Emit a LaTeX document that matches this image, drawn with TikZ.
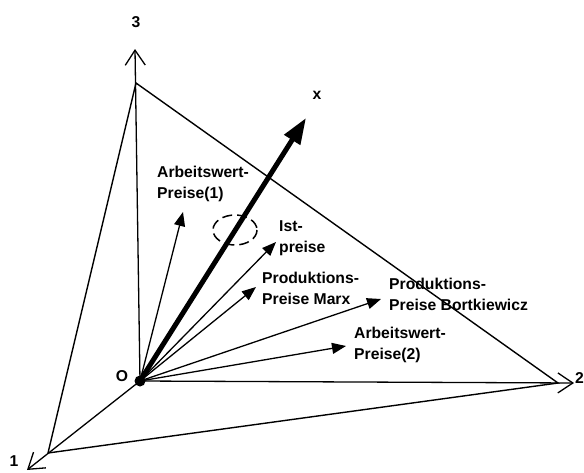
\documentclass[tikz,border=0pt]{standalone}
\usepackage{fontspec}
\setmainfont{Liberation Sans}
\usepackage{tikz}
\usetikzlibrary{arrows.meta,shapes,positioning}
\definecolor{InkK}{RGB}{0,0,0}

\begin{document}
\begin{tikzpicture}[x=1pt,y=-1pt,InkK,
    axis/.style={-{Straight Barb[length=15pt,width=20pt]},line width=1.3pt},
    edge/.style={line width=1.4pt},
    price/.style={-{Triangle[length=14pt,width=11pt]},line width=1.3pt},
    lbl/.style={font=\bfseries\fontsize{15.7}{21}\selectfont,align=left,
      anchor=north west,inner sep=0pt},
    axlbl/.style={font=\bfseries\fontsize{15.7}{18}\selectfont,inner sep=0pt}]
  \useasboundingbox (0,0) rectangle (584,472);
  % origin, axis ends, corners of the plane
  \coordinate (O)  at (140,381);
  \coordinate (e1) at (27,470);
  \coordinate (e2) at (574,383);
  \coordinate (e3) at (135,49);
  \coordinate (A1) at (48,453);
  \coordinate (A2) at (558,383);
  \coordinate (A3) at (136,83);
  \coordinate (xt) at (306,118);
  % arrow tips of the price vectors
  \coordinate (t1) at (183,212);
  \coordinate (t2) at (276,242);
  \coordinate (t3) at (256,287);
  \coordinate (t4) at (381,299);
  \coordinate (t5) at (346,346);

  \draw[edge] (A3) -- (A2) -- (A1) -- cycle;
  \draw[axis] (O) -- (e1);
  \draw[axis] (O) -- (e2);
  \draw[axis] (O) -- (e3);
  \node[axlbl] (n1) at (14,461) {1};
  \node[axlbl,anchor=west] (n2) at (575,378) {2};
  \node[axlbl] (n3) at (136,22) {3};
  \node[axlbl] (nO) at (122,376) {O};

  \draw[-{Triangle[length=26pt,width=18pt]},line width=5pt] (O) -- (xt);
  \node[axlbl] (nx) at (317,95) {x};

  \draw[price] (O) -- (t1);
  \draw[price] (O) -- (t2);
  \draw[price] (O) -- (t3);
  \draw[price] (O) -- (t4);
  \draw[price] (O) -- (t5);
  \fill (O) circle (5.5pt);

  \draw[line width=1.5pt,dash pattern=on 10pt off 5pt] (235,230)
    ellipse [x radius=22, y radius=15];

  \node[lbl] (p1) at (157,166) {Arbeitswert-\\Preise(1)};
  \node[lbl] (p2) at (279,220) {Ist-\\preise};
  \node[lbl] (p3) at (262,272) {Produktions-\\Preise Marx};
  \node[lbl] (p4) at (389,278) {Produktions-\\Preise Bortkiewicz};
  \node[lbl] (p5) at (354,327) {Arbeitswert-\\Preise(2)};
\end{tikzpicture}
\end{document}
